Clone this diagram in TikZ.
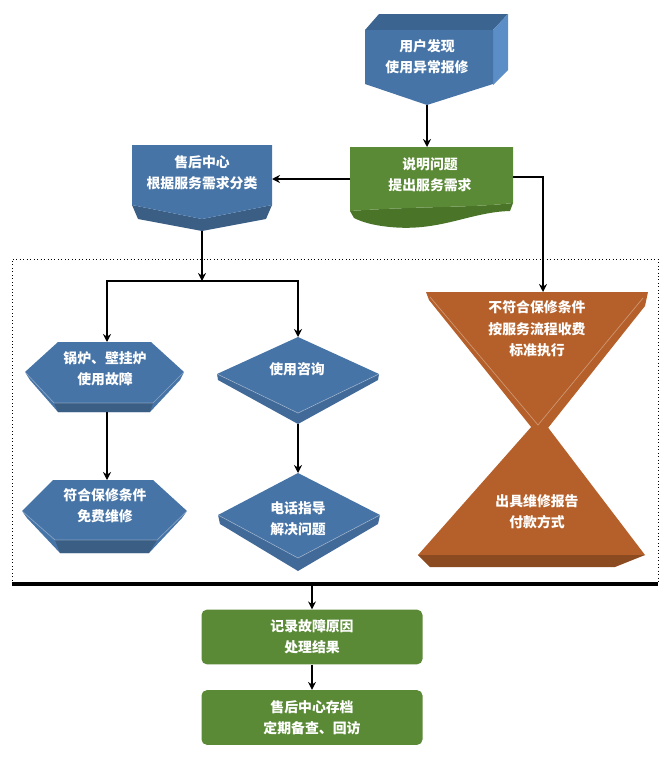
\documentclass[tikz,border=0pt]{standalone}
\usepackage{fontspec}
\newfontfamily\cjk{Noto Sans CJK SC}
\usepackage{tikz}
\usetikzlibrary{arrows.meta, calc}
\definecolor{bfront}{HTML}{4774A6}
\definecolor{btop}{HTML}{3C6490}
\definecolor{bside}{HTML}{5B8DC6}
\definecolor{bdark}{HTML}{3B5E85}
\definecolor{bband}{HTML}{416A99}
\definecolor{gfront}{HTML}{5A8A35}
\definecolor{gdark}{HTML}{4A7529}
\definecolor{ofront}{HTML}{B5602A}
\definecolor{odark}{HTML}{8C4A20}
\tikzset{
  txt/.style   = {font=\cjk\bfseries\fontsize{10.4}{16}\selectfont, text=white,
                  align=center, inner sep=0pt},
  gbox/.style  = {txt, rectangle, rounded corners=4pt, fill=gfront,
                  minimum width=165.75pt, minimum height=41pt},
  bevel/.style = {draw=white, draw opacity=0.35, line width=0.5pt},
  arr/.style   = {-{Stealth[length=6pt, width=6pt]}, line width=1.8pt, draw=black},
  frame/.style = {dotted, line width=0.6pt, draw=black}
}
\begin{document}
\begin{tikzpicture}[x=0.75pt, y=-0.75pt]
  \useasboundingbox (0,0) rectangle (670,760);
  % top box
  \fill[btop]   (365,30) -- (379,14) -- (508,14) -- (493,30) -- cycle;
  \fill[bside]  (493,30) -- (508,14) -- (508,70) -- (493,85) -- cycle;
  \fill[bfront] (365,30) -- (493,30) -- (493,84) -- (427,105) -- (365,84) -- cycle;
  % green document
  \fill[gdark]  (350,211) .. controls (420,206) and (470,208) .. (513,203)
                -- (510,211) .. controls (470,212) and (440,232) .. (390,227)
                .. controls (370,225) and (360,221) .. (354,218) -- cycle;
  \fill[gfront] (350,147) -- (513,147) -- (513,203)
                .. controls (470,208) and (420,206) .. (350,211) -- cycle;
  % classify box
  \fill[bdark]  (132,205) -- (202,219) -- (272,205) -- (266,219) -- (202,231) -- (138,219) -- cycle;
  \fill[bfront] (132,145) -- (272,145) -- (272,205) -- (202,219) -- (132,205) -- cycle;
  % hexagons
  \fill[bfront] (58,342) -- (151,342) -- (184,372) -- (180,380) -- (150,412)
                -- (58,412) -- (30,380) -- (25,372) -- cycle;
  \fill[bdark]  (54,403) -- (153,403) -- (150,412) -- (58,412) -- cycle;
  \draw[bevel]  (25,372) -- (54,403) -- (153,403) -- (184,372);
  \fill[bfront] (53,480) -- (153,480) -- (187,511) -- (182,518) -- (149,553)
                -- (60,553) -- (27,518) -- (22,511) -- cycle;
  \fill[bdark]  (55,540) -- (157,540) -- (149,553) -- (60,553) -- cycle;
  \draw[bevel]  (22,511) -- (55,540) -- (157,540) -- (187,511);
  % diamonds
  \fill[bfront] (298,337) -- (379,374) -- (298,413) -- (217,374) -- cycle;
  \fill[bband]  (217,374) -- (298,413) -- (379,374) -- (378,380) -- (298,424) -- (218,380) -- cycle;
  \draw[bevel]  (217,374) -- (298,413) -- (379,374);
  \fill[bfront] (298,473) -- (380,515) -- (298,558) -- (218,515) -- cycle;
  \fill[bband]  (218,515) -- (298,558) -- (380,515) -- (378,524) -- (298,571) -- (220,524) -- cycle;
  \draw[bevel]  (218,515) -- (298,558) -- (380,515);
  % hourglass
  \fill[ofront] (540,417) -- (645,555) -- (418,555) -- cycle;
  \fill[odark]  (418,555) -- (645,555) -- (615,567) -- (430,567) -- cycle;
  \fill[ofront] (426,292) -- (648,292) -- (645,306) -- (540,438) -- (429,300) -- cycle;
  \draw[bevel]  (430,297) -- (538,425) -- (643,298);
  % dashed region and merge bar
  \draw[frame] (12,584) -- (12,259) -- (658,259) -- (658,584);
  \draw[line width=2.6pt] (12,584) -- (658,584);

  % texts
  \node[txt] (user)     at (427,57)  {用户发现\\使用异常报修};
  \node[txt] (explain)  at (430,175) {说明问题\\提出服务需求};
  \node[txt] (classify) at (202,173) {售后中心\\根据服务需求分类};
  \node[txt] (fault)    at (105,369) {锅炉、壁挂炉\\使用故障};
  \node[txt] (free)     at (105,506) {符合保修条件\\免费维修};
  \node[txt] (consult)  at (297,369) {使用咨询};
  \node[txt] (phone)    at (298,519) {电话指导\\解决问题};
  \node[txt] (paid)     at (537,329) {不符合保修条件\\按服务流程收费\\标准执行};
  \node[txt] (report)   at (537,512) {出具维修报告\\付款方式};
  \node[gbox] (record)  at (312,637) {记录故障原因\\处理结果};
  \node[gbox] (archive) at (312,717.5) {售后中心存档\\定期备查、回访};

  % connection points
  \coordinate (user-s)     at (427,105);
  \coordinate (explain-n)  at (427,147);
  \coordinate (explain-w)  at (350,179);
  \coordinate (explain-e)  at (513,177);
  \coordinate (classify-e) at (272,179);
  \coordinate (classify-s) at (202,231);
  \coordinate (split)      at (202,281);
  \coordinate (fault-n)    at (107,342);
  \coordinate (fault-s)    at (107,412);
  \coordinate (free-n)     at (107,480);
  \coordinate (consult-n)  at (298,337);
  \coordinate (consult-s)  at (298,424);
  \coordinate (phone-n)    at (298,473);
  \coordinate (paid-n)     at (543,292);
  \coordinate (merge)      at (312,584);

  \draw[arr] (user-s) -- (explain-n);
  \draw[arr] (explain-w) -- (classify-e);
  \draw[arr] (explain-e) -| (paid-n);
  \draw[arr] (classify-s) -- (split);
  \draw[arr] (split) -| (fault-n);
  \draw[arr] (split) -| (consult-n);
  \draw[arr] (fault-s) -- (free-n);
  \draw[arr] (consult-s) -- (phone-n);
  \draw[arr] (merge) -- (record.north);
  \draw[arr] (record.south) -- (archive.north);
\end{tikzpicture}
\end{document}
